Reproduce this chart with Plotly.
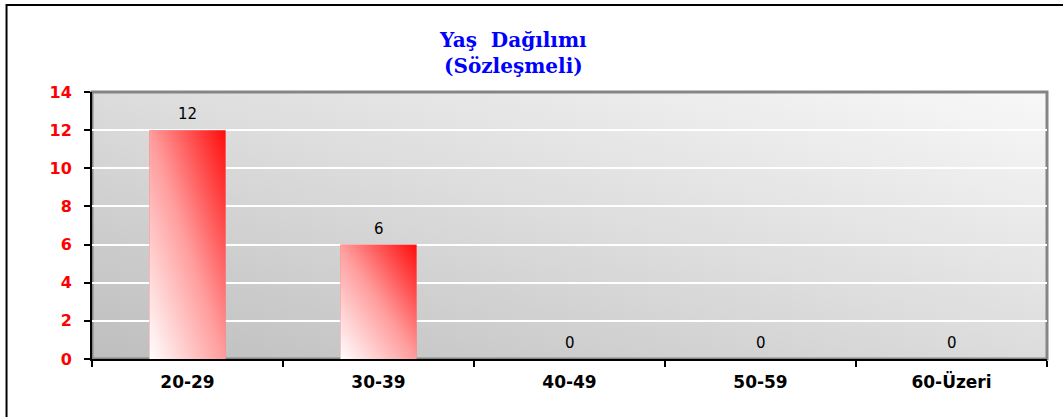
import base64

import plotly.graph_objects as go

# data
categories = ["20-29", "30-39", "40-49", "50-59", "60-Üzeri"]
counts = [12, 6, 0, 0, 0]
y_ticks = [0, 2, 4, 6, 8, 10, 12, 14]
title_lines = ["Yaş  Dağılımı", "(Sözleşmeli)"]

RED, BLUE, GRIDC, BORDER = "#ff0000", "#0000ff", "#ffffff", "#858585"
SANS, SERIF = "DejaVu Sans, Arial", "DejaVu Serif, Times New Roman"
BAR_W = 0.4


def svg_gradient(stops):
    """Diagonal (bottom-left -> top-right) gradient as an svg data uri."""
    st = "".join(f"<stop offset='{o}' stop-color='{c}'/>" for o, c in stops)
    svg = ("<svg xmlns='http://www.w3.org/2000/svg' width='100' height='100' "
           "viewBox='0 0 100 100' preserveAspectRatio='none'><defs>"
           f"<linearGradient id='g' x1='0' y1='1' x2='1' y2='0'>{st}</linearGradient>"
           "</defs><rect width='100' height='100' fill='url(#g)'/></svg>")
    return "data:image/svg+xml;base64," + base64.b64encode(svg.encode()).decode()


BG_IMG = svg_gradient([(0, "#bebebe"), (0.5, "#dcdcdc"), (1, "#f8f8f8")])
BAR_IMG = svg_gradient([(0, "#ffffff"), (0.5, "#ff9c9c"), (1, "#ff0c0c")])

fig = go.Figure(go.Bar(
    x=categories, y=counts, width=BAR_W, marker=dict(color="#ff8080", line=dict(width=0)),
    hoverinfo="x+y"))

images = [dict(source=BG_IMG, xref="paper", yref="paper", x=0, y=1, sizex=1, sizey=1,
               xanchor="left", yanchor="top", sizing="stretch", layer="below")]
for i, v in enumerate(counts):
    if v > 0:
        images.append(dict(source=BAR_IMG, xref="x", yref="y", x=i - BAR_W / 2, y=v,
                           sizex=BAR_W, sizey=v, xanchor="left", yanchor="top",
                           sizing="stretch", layer="above"))

# value labels sit a little higher than plotly's "outside" text
labels = [dict(text=str(v), x=c, y=v, xref="x", yref="y", showarrow=False,
               yanchor="middle", yshift=16,
               font=dict(family=SANS, size=15, color="#000000"))
          for c, v in zip(categories, counts)]

title = dict(text="<br>".join(title_lines), xref="paper", yref="paper",
             x=0.441, y=1.145, xanchor="center", yanchor="middle", showarrow=False,
             font=dict(family=SERIF, size=20, color=BLUE, weight="bold"))

shapes = [
    # grey frame of the plot area (left/bottom covered by black axis lines)
    dict(type="rect", xref="paper", yref="paper", x0=0, x1=1, y0=0, y1=1,
         line=dict(color=BORDER, width=3), fillcolor="rgba(0,0,0,0)", layer="below"),
    # outer chart frame, running off the right and bottom edges
    dict(type="rect", xref="paper", yref="paper", x0=-0.0895, x1=1.04, y0=-0.28, y1=1.3255,
         line=dict(color="#000000", width=2), fillcolor="rgba(0,0,0,0)", layer="above"),
]

fig.update_layout(
    width=1063, height=417, showlegend=False, bargap=0.6,
    paper_bgcolor="#ffffff", plot_bgcolor="rgba(0,0,0,0)",
    margin=dict(l=92, r=16, t=92, b=58),
    font=dict(family=SANS, color="#000000"),
    images=images, shapes=shapes, annotations=labels + [title],
    xaxis=dict(type="category", tickson="boundaries", ticks="outside", ticklen=6,
               tickwidth=2, tickcolor="#000000", showline=True, linecolor="#000000",
               linewidth=2, showgrid=False, ticklabelstandoff=7,
               tickfont=dict(size=17, color="#000000", weight="bold")),
    yaxis=dict(range=[0, 14], tickvals=y_ticks, ticks="outside", ticklen=6, tickwidth=2,
               tickcolor="#000000", showline=True, linecolor="#000000", linewidth=2,
               showgrid=True, gridcolor=GRIDC, gridwidth=2, zeroline=False,
               ticklabelstandoff=9, tickfont=dict(size=16, color=RED, weight="bold")),
)

# page body has a default 8px margin; drop it so the figure sits at 0,0
fig.write_html("out.html", config={"displayModeBar": False},
               post_script="document.body.style.margin='0px';")
